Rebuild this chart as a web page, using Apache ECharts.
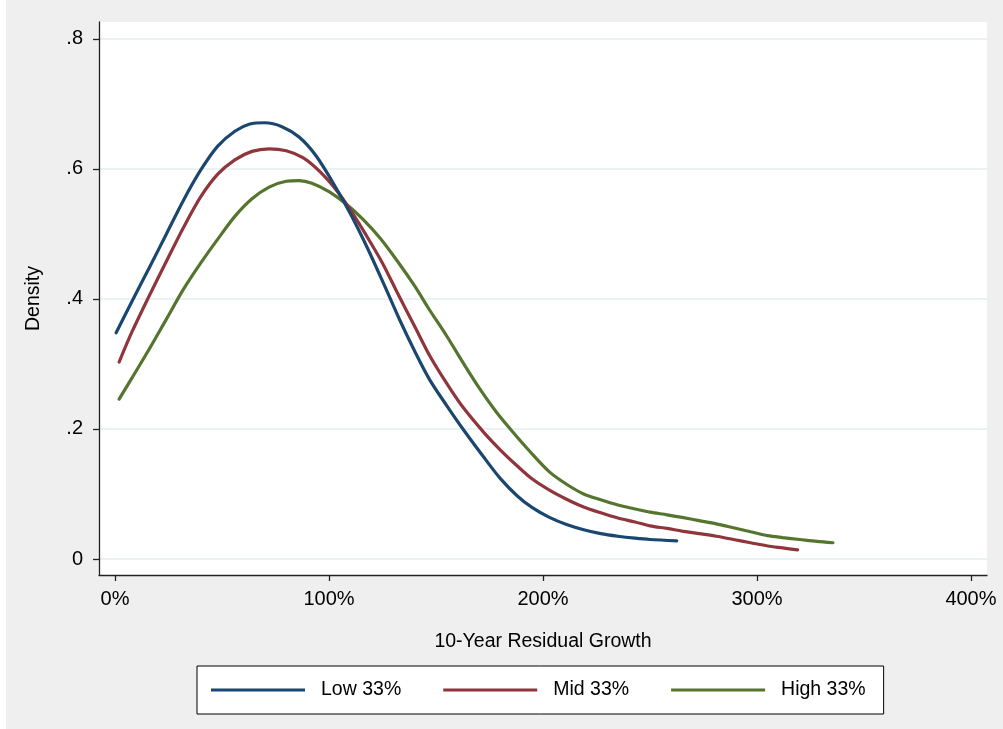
<!DOCTYPE html>
<html>
<head>
<meta charset="utf-8">
<script src="https://cdn.jsdelivr.net/npm/echarts@6/dist/echarts.min.js"></script>
<style>
html,body{margin:0;padding:0;background:#ffffff;}
#chart{position:absolute;left:6px;top:0;width:997px;height:729px;}
</style>
</head>
<body>
<div id="chart"></div>
<script>
// ---- data ----
const seriesNames = ['Low 33%', 'Mid 33%', 'High 33%'];
const xTicks = [0, 100, 200, 300, 400];
const yTicks = [0, 0.2, 0.4, 0.6, 0.8];

const lowX = [0.5, 8, 16, 24, 32, 40, 48, 56, 63, 70, 78, 86, 94, 102, 110, 118, 126, 133, 140, 147, 155, 163, 172, 180, 188, 195, 203, 211, 219, 227, 235, 243, 250, 262.5];
const lowY = [0.348, 0.397, 0.448, 0.500, 0.552, 0.598, 0.635, 0.658, 0.669, 0.671, 0.665, 0.649, 0.620, 0.578, 0.531, 0.478, 0.420, 0.368, 0.320, 0.276, 0.236, 0.198, 0.158, 0.124, 0.097, 0.079, 0.064, 0.053, 0.045, 0.039, 0.035, 0.032, 0.030, 0.028];

const midX = [1.9, 8, 16, 24, 32, 40, 48, 56, 64, 72, 80, 88, 96, 104, 110, 117, 125, 132, 140, 147, 155, 162, 172, 180, 188, 195, 203, 211, 219, 227, 235, 243, 250, 258, 265, 273, 281, 289, 297, 305, 312, 319];
const midY = [0.303, 0.350, 0.405, 0.458, 0.510, 0.557, 0.592, 0.614, 0.627, 0.631, 0.628, 0.617, 0.595, 0.565, 0.537, 0.500, 0.455, 0.409, 0.358, 0.313, 0.270, 0.236, 0.196, 0.168, 0.143, 0.123, 0.106, 0.092, 0.080, 0.071, 0.063, 0.057, 0.051, 0.047, 0.043, 0.039, 0.035, 0.030, 0.025, 0.020, 0.017, 0.014];

const highX = [1.9, 8, 16, 24, 32, 40, 48, 56, 64, 72, 80, 86, 92, 100, 108, 116, 124, 132, 140, 147, 155, 163, 170, 178, 186, 194, 203, 211, 219, 227, 235, 243, 250, 258, 265, 273, 281, 289, 297, 305, 312, 320, 328, 335.5];
const highY = [0.246, 0.279, 0.323, 0.369, 0.415, 0.455, 0.492, 0.527, 0.554, 0.572, 0.581, 0.582, 0.578, 0.565, 0.546, 0.522, 0.493, 0.458, 0.420, 0.383, 0.343, 0.300, 0.264, 0.227, 0.195, 0.165, 0.134, 0.115, 0.100, 0.091, 0.083, 0.077, 0.072, 0.068, 0.064, 0.059, 0.054, 0.048, 0.042, 0.036, 0.033, 0.030, 0.027, 0.025];

const colors = ['#1a476f', '#90353b', '#55752f'];

function zip(xs, ys) { return xs.map((x, i) => [x, ys[i]]); }
const allData = [zip(lowX, lowY), zip(midX, midY), zip(highX, highY)];

const FONT = "'Liberation Sans', Arial, Helvetica, sans-serif";
const chart = echarts.init(document.getElementById('chart'), null, {renderer: 'canvas'});

chart.setOption({
  backgroundColor: '#efefef',
  animation: false,
  textStyle: {fontFamily: FONT},
  grid: {
    left: 93, right: 16, top: 22, bottom: 154,
    show: true, backgroundColor: '#ffffff', borderWidth: 0
  },
  legend: {
    data: seriesNames,
    left: 191, top: 666,
    orient: 'horizontal',
    backgroundColor: '#ffffff',
    borderColor: '#000000',
    borderWidth: 1,
    borderRadius: 0,
    padding: [14, 18, 14, 14],
    itemWidth: 94,
    itemHeight: 3,
    itemGap: 42,
    icon: 'rect',
    textStyle: {fontFamily: FONT, fontSize: 19.5, color: '#000', padding: [0, 0, 0, 11]}
  },
  xAxis: {
    type: 'value',
    min: -7.5, max: 407.5,
    name: '10-Year Residual Growth',
    nameLocation: 'middle',
    nameGap: 57,
    nameTextStyle: {fontFamily: FONT, fontSize: 19.5, color: '#000'},
    axisLine: {show: true, onZero: false, lineStyle: {color: '#222', width: 1.3}},
    axisTick: {show: true, length: 6, customValues: xTicks, lineStyle: {color: '#222', width: 1.3}},
    axisLabel: {
      customValues: xTicks, margin: 14,
      fontFamily: FONT, fontSize: 20, color: '#000',
      formatter: v => v + '%'
    },
    splitLine: {show: false}
  },
  yAxis: {
    type: 'value',
    min: -0.0246, max: 0.826,
    name: 'Density',
    nameLocation: 'middle',
    nameGap: 55,
    nameRotate: 90,
    nameTextStyle: {fontFamily: FONT, fontSize: 19.5, color: '#000'},
    axisLine: {show: true, onZero: false, lineStyle: {color: '#222', width: 1.3}},
    axisTick: {show: true, length: 6, customValues: yTicks, lineStyle: {color: '#222', width: 1.3}},
    axisLabel: {
      customValues: yTicks, margin: 16,
      fontFamily: FONT, fontSize: 20, color: '#000',
      formatter: v => (Math.abs(v) < 1e-9 ? '0' : String(+v.toFixed(1)).replace(/^0/, ''))
    },
    splitLine: {show: true, lineStyle: {color: '#e3eef0', width: 1.5}}
  },
  series: seriesNames.map((name, i) => ({
    name: name,
    type: 'line',
    data: allData[i],
    smooth: 0.3,
    showSymbol: false,
    symbol: 'none',
    color: colors[i],
    lineStyle: {color: colors[i], width: 3.2, cap: 'round'},
    z: 3 - i
  }))
});
</script>
</body>
</html>
